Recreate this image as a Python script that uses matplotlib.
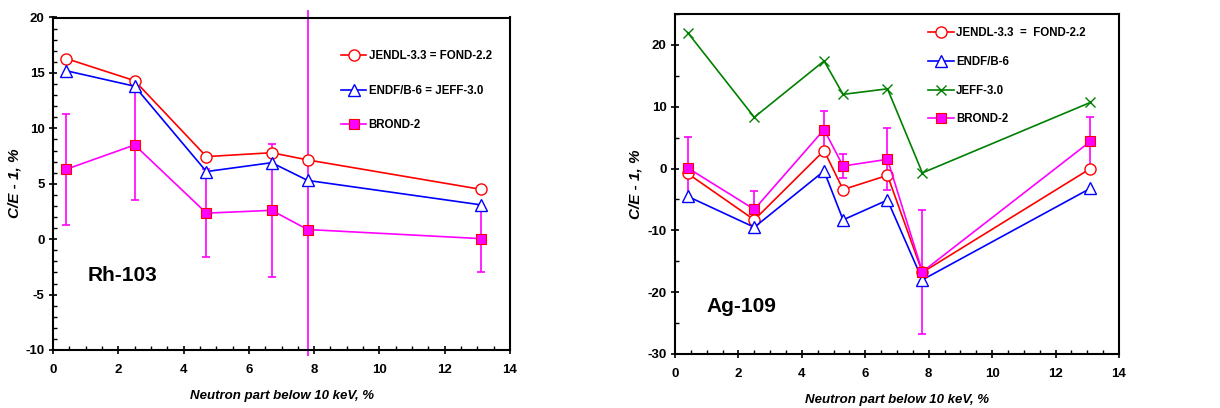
import matplotlib
matplotlib.use("Agg")
import matplotlib.pyplot as plt
from matplotlib.ticker import MultipleLocator

plt.rcParams['font.family'] = ['Liberation Sans', 'DejaVu Sans']
plt.rcParams['font.weight'] = 'bold'
plt.rcParams['axes.unicode_minus'] = False

# ---- Rh-103 data ----
rh_x = [0.4, 2.5, 4.7, 6.7, 7.8, 13.1]
rh_jendl = [16.3, 14.3, 7.45, 7.8, 7.15, 4.5]
rh_endf = [15.2, 13.8, 6.1, 6.9, 5.3, 3.1]
rh_brond = [6.3, 8.5, 2.35, 2.6, 0.87, 0.05]
rh_err_lo = [5.0, 5.0, 4.0, 6.0, 11.4, 3.0]
rh_err_hi = [5.0, 5.0, 4.0, 6.0, 19.8, 3.0]

# ---- Ag-109 data ----
ag_x = [0.4, 2.5, 4.7, 5.3, 6.7, 7.8, 13.1]
ag_jendl = [-0.8, -8.3, 2.9, -3.4, -1.1, -16.8, 0.0]
ag_endf = [-4.5, -9.5, -0.4, -8.3, -5.1, -18.0, -3.2]
ag_jeff = [22.0, 8.3, 17.4, 12.0, 12.9, -0.7, 10.7]
ag_brond = [0.1, -6.6, 6.3, 0.4, 1.5, -16.7, 4.4]
ag_err = [5.0, 3.0, 3.0, 2.0, 5.0, 10.0, 4.0]

W, H = 12.2, 4.08
fig = plt.figure(figsize=(W, H), dpi=100)

def px(l, r, t, b):
    return [l / 1220, 1 - b / 408, (r - l) / 1220, (b - t) / 408]

ax1 = fig.add_axes(px(53, 510, 17.5, 350))
ax2 = fig.add_axes(px(675, 1119, 14, 354))

RED = '#ff0000'
BLUE = '#0000ff'
MAG = '#ff00ff'
GREEN = '#008000'
lw = 1.2

def style(ax, ylim, ymajor, yminor):
    ax.set_xlim(0, 14)
    ax.set_ylim(*ylim)
    ax.xaxis.set_major_locator(MultipleLocator(2))
    ax.xaxis.set_minor_locator(MultipleLocator(0.5))
    ax.yaxis.set_major_locator(MultipleLocator(ymajor))
    ax.yaxis.set_minor_locator(MultipleLocator(yminor))
    ax.tick_params(which='major', direction='inout', length=6, width=1.2,
                   labelsize=9.5, top=False, right=False)
    ax.tick_params(axis='x', which='major', pad=7)
    ax.tick_params(axis='y', which='major', pad=3)
    ax.tick_params(which='minor', direction='in', length=3, width=1.0,
                   top=False, right=False)
    for lab in ax.get_xticklabels() + ax.get_yticklabels():
        lab.set_fontweight('bold')
    for s in ax.spines.values():
        s.set_linewidth(1.5)
    ax.set_xlabel('Neutron part below 10 keV, %', fontsize=9.5,
                  fontstyle='italic', fontweight='bold', labelpad=10)
    ax.set_ylabel('C/E - 1, %', fontsize=11, fontstyle='italic',
                  fontweight='bold')

# ---- Left chart ----
ax = ax1
norm = [i for i in range(len(rh_x)) if rh_err_hi[i] < 15]
big = [i for i in range(len(rh_x)) if rh_err_hi[i] >= 15]
ax.errorbar([rh_x[i] for i in norm], [rh_brond[i] for i in norm],
            yerr=[[rh_err_lo[i] for i in norm], [rh_err_hi[i] for i in norm]],
            fmt='none', ecolor=MAG, elinewidth=1.2, capsize=3, capthick=1.2, zorder=2)
ax.errorbar([rh_x[i] for i in big], [rh_brond[i] for i in big],
            yerr=[[rh_err_lo[i] for i in big], [rh_err_hi[i] for i in big]],
            fmt='none', ecolor=MAG, elinewidth=1.2, capsize=0, clip_on=False, zorder=2)
ax.plot(rh_x, rh_jendl, color=RED, lw=lw, marker='o', ms=8,
        mfc='white', mec=RED, mew=1.0, label='JENDL-3.3 = FOND-2.2', zorder=3)
ax.plot(rh_x, rh_endf, color=BLUE, lw=lw, marker='^', ms=8,
        mfc='white', mec=BLUE, mew=1.0, label='ENDF/B-6 = JEFF-3.0', zorder=4)
ax.plot(rh_x, rh_brond, color=MAG, lw=lw, marker='s', ms=7.5,
        mfc=MAG, mec=RED, mew=0.8, label='BROND-2', zorder=5)
style(ax, (-10, 20), 5, 1)
ax.yaxis.set_label_coords(-0.07, 0.5)
ax.text(0.075, 0.225, 'Rh-103', transform=ax.transAxes, fontsize=15,
        fontweight='bold', va='center', ha='left')
ax.legend(loc='upper left', bbox_to_anchor=(0.62, 0.915), frameon=False,
          fontsize=8.3, handlelength=2.2, handletextpad=0.2,
          labelspacing=1.95, borderaxespad=0)

# ---- Right chart ----
ax = ax2
ax.errorbar(ag_x, ag_brond, yerr=ag_err, fmt='none',
            ecolor=MAG, elinewidth=1.2, capsize=3, capthick=1.2, zorder=2)
ax.plot(ag_x, ag_jendl, color=RED, lw=lw, marker='o', ms=8,
        mfc='white', mec=RED, mew=1.0, label='JENDL-3.3  =  FOND-2.2', zorder=3)
ax.plot(ag_x, ag_endf, color=BLUE, lw=lw, marker='^', ms=8,
        mfc='white', mec=BLUE, mew=1.0, label='ENDF/B-6', zorder=4)
ax.plot(ag_x, ag_jeff, color=GREEN, lw=lw, marker='x', ms=7,
        mec=GREEN, mew=1.0, label='JEFF-3.0', zorder=4)
ax.plot(ag_x, ag_brond, color=MAG, lw=lw, marker='s', ms=7.5,
        mfc=MAG, mec=RED, mew=0.8, label='BROND-2', zorder=5)
style(ax, (-30, 25), 10, 5)
ax.yaxis.set_label_coords(-0.074, 0.5)
ax.text(0.07, 0.14, 'Ag-109', transform=ax.transAxes, fontsize=15,
        fontweight='bold', va='center', ha='left')
ax.legend(loc='upper left', bbox_to_anchor=(0.56, 0.975), frameon=False,
          fontsize=8.3, handlelength=2.2, handletextpad=0.2,
          labelspacing=1.45, borderaxespad=0)

fig.savefig('out.png', dpi=100)
